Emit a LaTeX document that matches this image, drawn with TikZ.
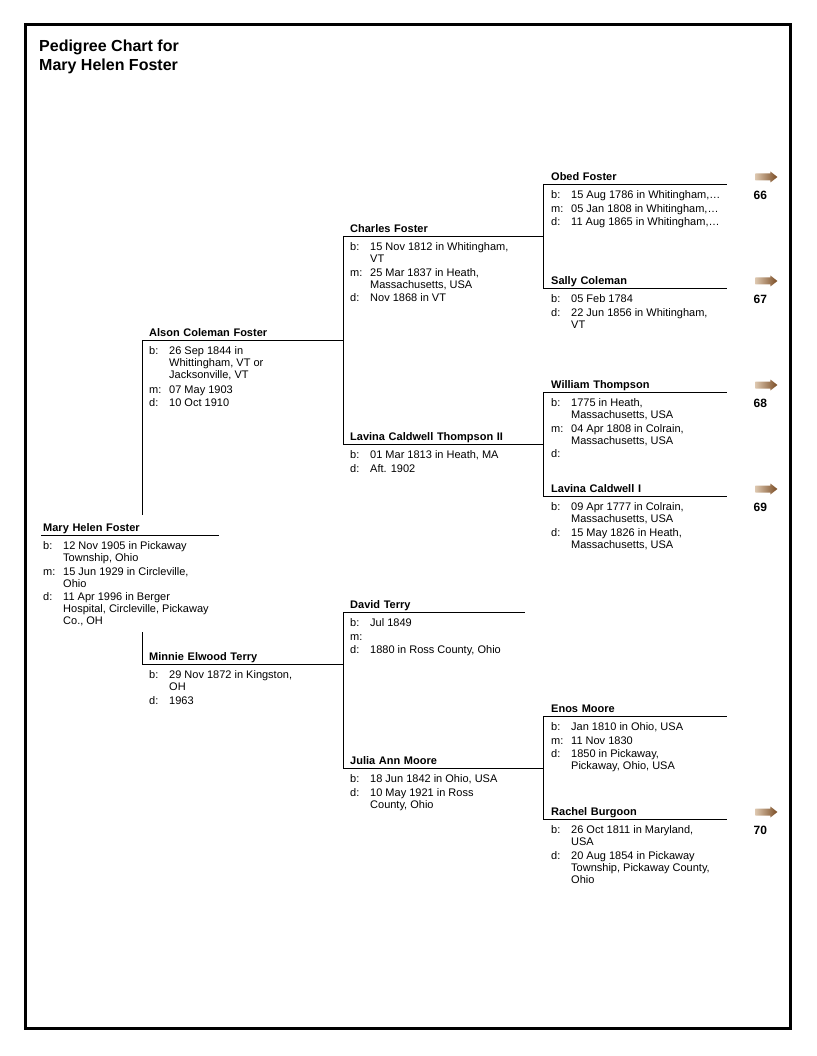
\documentclass[tikz,border=0pt]{standalone}
\usepackage{fontspec}
\setmainfont{Liberation Sans}
\usetikzlibrary{positioning}
\definecolor{arrowlight}{HTML}{DCC6AE}
\definecolor{arrowdark}{HTML}{7A4C24}
\newcommand{\infofont}{\fontsize{11}{12}\selectfont}
\newcommand{\namefont}{\fontsize{11}{12}\selectfont\bfseries}
\newcommand{\facts}[1]{\begin{tabular}[t]{@{}p{20pt}@{}l@{}}#1\end{tabular}}

\begin{document}
\begin{tikzpicture}[x=1pt, y=-1pt,
  pname/.style 2 args={anchor=south west, inner xsep=#2, inner ysep=3pt, text width=#1, text depth=0pt, align=left, font=\namefont},
  info/.style={inner sep=0pt, font=\infofont},
  refnum/.style={inner sep=0pt, font=\fontsize{12}{14}\selectfont\bfseries},
  pline/.style={line width=0.8pt},
  more/.pic={\shade[left color=arrowlight, right color=arrowdark] (-12,-3.5) -- (3,-3.5) -- (3,-5.5) -- (10,0) -- (3,5.5) -- (3,3.5) -- (-12,3.5) -- cycle;}]
\useasboundingbox (0,0) rectangle (816,1056);
\draw[line width=3pt] (25.5,25) rectangle (790.5,1028);

% Title
\node[anchor=north west, inner sep=0pt, align=left, font=\fontsize{16}{19}\selectfont\bfseries] (title) at (39,39.5) {Pedigree Chart for\\Mary Helen Foster};

% Generation 1
\node[pname={174pt}{2pt}] (mary) at (41,535) {Mary Helen Foster};
\node[info, below right=6pt and 2pt of mary.south west] (maryinfo) {\facts{b: & 12 Nov 1905 in Pickaway\\ & Township, Ohio\\[1.5pt] m: & 15 Jun 1929 in Circleville,\\ & Ohio\\[1.5pt] d: & 11 Apr 1996 in Berger\\ & Hospital, Circleville, Pickaway\\ & Co., OH}};

% Generation 2
\node[pname={187pt}{7pt}] (alson) at (142,340) {Alson Coleman Foster};
\node[info, below right=6pt and 7pt of alson.south west] (alsoninfo) {\facts{b: & 26 Sep 1844 in\\ & Whittingham, VT or\\ & Jacksonville, VT\\[2.5pt] m: & 07 May 1903\\[1.5pt] d: & 10 Oct 1910}};
\node[pname={187pt}{7pt}] (minnie) at (142,664) {Minnie Elwood Terry};
\node[info, below right=6pt and 7pt of minnie.south west] (minnieinfo) {\facts{b: & 29 Nov 1872 in Kingston,\\ & OH\\[1.5pt] d: & 1963}};

% Generation 3
\node[pname={186pt}{7pt}] (charles) at (343,236) {Charles Foster};
\node[info, below right=6pt and 7pt of charles.south west] (charlesinfo) {\facts{b: & 15 Nov 1812 in Whitingham,\\ & VT\\[1.5pt] m: & 25 Mar 1837 in Heath,\\ & Massachusetts, USA\\[1.5pt] d: & Nov 1868 in VT}};
\node[pname={186pt}{7pt}] (lavinaII) at (343,444) {Lavina Caldwell Thompson II};
\node[info, below right=6pt and 7pt of lavinaII.south west] (lavinaIIinfo) {\facts{b: & 01 Mar 1813 in Heath, MA\\[1.5pt] d: & Aft. 1902}};
\node[pname={168pt}{7pt}] (david) at (343,612) {David Terry};
\node[info, below right=6pt and 7pt of david.south west] (davidinfo) {\facts{b: & Jul 1849\\[1.5pt] m: & \\[1.5pt] d: & 1880 in Ross County, Ohio}};
\node[pname={186pt}{7pt}] (julia) at (343,768) {Julia Ann Moore};
\node[info, below right=6pt and 7pt of julia.south west] (juliainfo) {\facts{b: & 18 Jun 1842 in Ohio, USA\\[1.5pt] d: & 10 May 1921 in Ross\\ & County, Ohio}};

% Generation 4
\node[pname={168pt}{8pt}] (obed) at (543,184) {Obed Foster};
\node[info, below right=6pt and 8pt of obed.south west] (obedinfo) {\facts{b: & 15 Aug 1786 in Whitingham,…\\[1.5pt] m: & 05 Jan 1808 in Whitingham,…\\[1.5pt] d: & 11 Aug 1865 in Whitingham,…}};
\node[pname={168pt}{8pt}] (sally) at (543,288) {Sally Coleman};
\node[info, below right=6pt and 8pt of sally.south west] (sallyinfo) {\facts{b: & 05 Feb 1784\\[1.5pt] d: & 22 Jun 1856 in Whitingham,\\ & VT}};
\node[pname={168pt}{8pt}] (william) at (543,392) {William Thompson};
\node[info, below right=6pt and 8pt of william.south west] (williaminfo) {\facts{b: & 1775 in Heath,\\ & Massachusetts, USA\\[1.5pt] m: & 04 Apr 1808 in Colrain,\\ & Massachusetts, USA\\[1.5pt] d: & }};
\node[pname={168pt}{8pt}] (lavinaI) at (543,496) {Lavina Caldwell I};
\node[info, below right=6pt and 8pt of lavinaI.south west] (lavinaIinfo) {\facts{b: & 09 Apr 1777 in Colrain,\\ & Massachusetts, USA\\[1.5pt] d: & 15 May 1826 in Heath,\\ & Massachusetts, USA}};
\node[pname={168pt}{8pt}] (enos) at (543,716) {Enos Moore};
\node[info, below right=6pt and 8pt of enos.south west] (enosinfo) {\facts{b: & Jan 1810 in Ohio, USA\\[1.5pt] m: & 11 Nov 1830\\[1.5pt] d: & 1850 in Pickaway,\\ & Pickaway, Ohio, USA}};
\node[pname={168pt}{8pt}] (rachel) at (543,819) {Rachel Burgoon};
\node[info, below right=6pt and 8pt of rachel.south west] (rachelinfo) {\facts{b: & 26 Oct 1811 in Maryland,\\ & USA\\[1.5pt] d: & 20 Aug 1854 in Pickaway\\ & Township, Pickaway County,\\ & Ohio}};

% Continuation arrows
\foreach \who/\num in {obed/66, sally/67, william/68, lavinaI/69, rachel/70} {
  \pic at ([xshift=40pt, yshift=7pt]\who.south east) {more};
  \node[refnum] (ref\num) at ([xshift=33pt, yshift=-11pt]\who.south east) {\num};
}

% Lines
\foreach \who in {mary, alson, minnie, charles, lavinaII, david, julia, obed, sally, william, lavinaI, enos, rachel}
  \draw[pline] (\who.south west) -- (\who.south east);
\draw[pline] (charles.south west) -- (lavinaII.south west);
\draw[pline] (david.south west) -- (julia.south west);
\draw[pline] (obed.south west) -- (sally.south west);
\draw[pline] (william.south west) -- (lavinaI.south west);
\draw[pline] (enos.south west) -- (rachel.south west);
\coordinate (marygaptop) at ([yshift=6pt]mary.north);
\coordinate (marygapbot) at ([yshift=-4pt]maryinfo.south);
\draw[pline] (alson.south west) -- (alson.south west |- marygaptop);
\draw[pline] (minnie.south west) -- (minnie.south west |- marygapbot);
\end{tikzpicture}
\end{document}
